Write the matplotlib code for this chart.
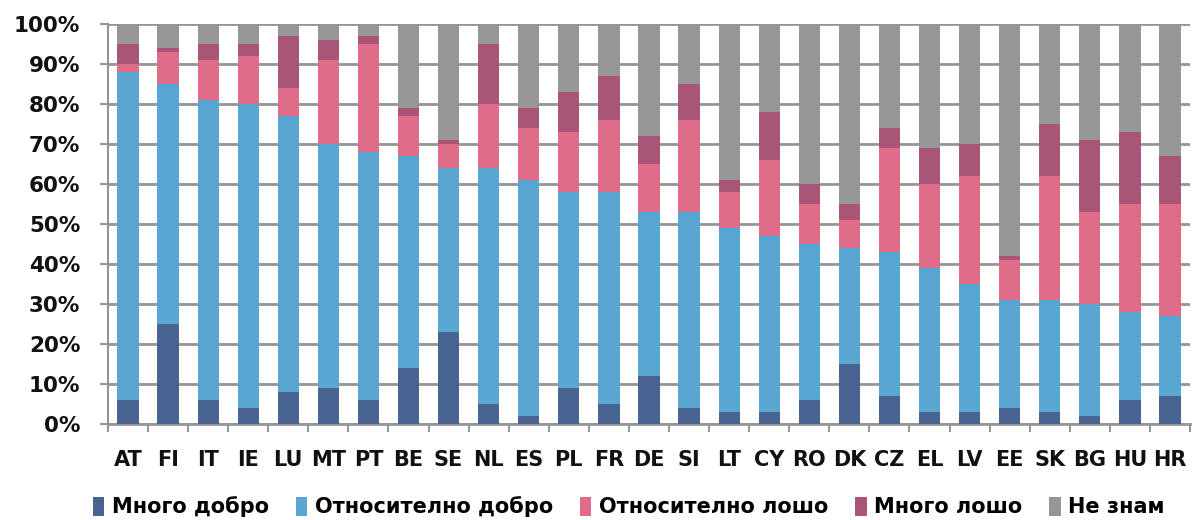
import matplotlib
matplotlib.use("Agg")
import matplotlib.pyplot as plt
import numpy as np

countries = ["AT", "FI", "IT", "IE", "LU", "MT", "PT", "BE", "SE", "NL", "ES", "PL",
             "FR", "DE", "SI", "LT", "CY", "RO", "DK", "CZ", "EL", "LV", "EE", "SK",
             "BG", "HU", "HR"]

series_names = ["Много добро", "Относително добро", "Относително лошо",
                "Много лошо", "Не знам"]

very_good = [6, 25, 6, 4, 8, 9, 6, 14, 23, 5, 2, 9, 5, 12, 4, 3, 3, 6, 15, 7, 3, 3, 4, 3, 2, 6, 7]
fairly_good = [82, 60, 75, 76, 69, 61, 62, 53, 41, 59, 59, 49, 53, 41, 49, 46, 44, 39, 29, 36, 36, 32, 27, 28, 28, 22, 20]
fairly_bad = [2, 8, 10, 12, 7, 21, 27, 10, 6, 16, 13, 15, 18, 12, 23, 9, 19, 10, 7, 26, 21, 27, 10, 31, 23, 27, 28]
very_bad = [5, 1, 4, 3, 13, 5, 2, 2, 1, 15, 5, 10, 11, 7, 9, 3, 12, 5, 4, 5, 9, 8, 1, 13, 18, 18, 12]
dont_know = [5, 6, 5, 5, 3, 4, 3, 21, 29, 5, 21, 17, 13, 28, 15, 39, 22, 40, 45, 26, 31, 30, 58, 25, 29, 27, 33]

colors = ["#476491", "#58a7d3", "#df6c89", "#a85577", "#969696"]
grid_color = "#959595"

series = [very_good, fairly_good, fairly_bad, very_bad, dont_know]

fig = plt.figure(figsize=(11.93, 5.2), dpi=100)
ax = fig.add_axes([0.0905, 0.1846, 0.907, 0.7692])

x = np.arange(len(countries))
bottom = np.zeros(len(countries))
handles = []
for name, vals, col in zip(series_names, series, colors):
    vals = np.array(vals, dtype=float)
    b = ax.bar(x, vals, bottom=bottom, width=0.53, color=col, label=name,
               zorder=3, linewidth=0)
    handles.append(b)
    bottom += vals

ax.set_xlim(-0.5, len(countries) - 0.5)
ax.set_ylim(0, 100)

yt = np.arange(0, 101, 10)
ax.set_yticks(yt)
ax.set_yticklabels([f"{v}%" for v in yt], fontsize=15.5, fontweight="semibold",
                   color="#111111")
ax.yaxis.grid(True, color=grid_color, linewidth=2, zorder=0)
ax.set_axisbelow(True)

ax.set_xticks(x)
ax.set_xticklabels(countries, fontsize=15, fontweight="bold", color="#111111")
ax.set_xticks(np.arange(-0.5, len(countries)), minor=True)
ax.tick_params(axis="x", which="major", length=0, pad=19)
ax.tick_params(axis="x", which="minor", length=6, width=1.5, color=grid_color,
               direction="out")
ax.tick_params(axis="y", which="major", length=6, width=1.5, color=grid_color,
               direction="out", pad=14)

for side in ["top", "right"]:
    ax.spines[side].set_visible(False)
ax.spines["left"].set_color(grid_color)
ax.spines["left"].set_linewidth(1.5)
ax.spines["bottom"].set_color(grid_color)
ax.spines["bottom"].set_linewidth(2)

leg = fig.legend(handles, series_names, loc="center", bbox_to_anchor=(0.527, 0.025),
                 ncol=5, frameon=False, handlelength=0.55,
                 handleheight=1.0, handletextpad=0.35, columnspacing=1.3,
                 prop={"weight": "semibold", "size": 15})

fig.savefig("out.png", dpi=100)
